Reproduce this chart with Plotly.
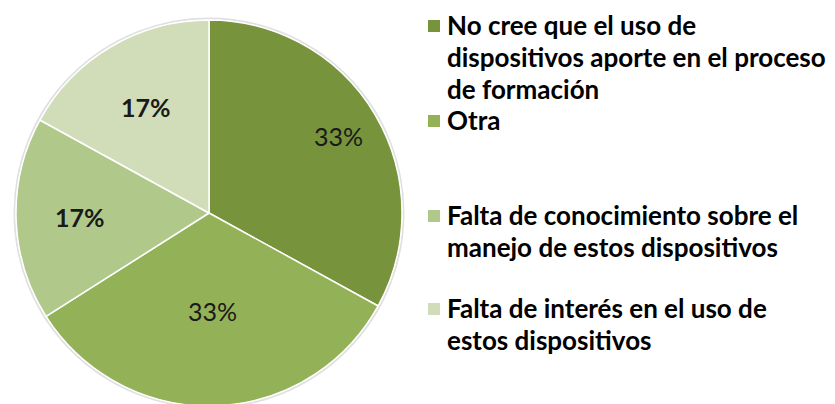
import math
import plotly.graph_objects as go

W, H = 835, 404
OFF = 8  # browser body margin offset

categories = [
    "No cree que el uso de dispositivos aporte en el proceso de formación",
    "Otra",
    "Falta de conocimiento sobre el manejo de estos dispositivos",
    "Falta de interés en el uso de estos dispositivos",
]
legend_lines = [
    ["No cree que el uso de", "dispositivos aporte en el proceso", "de formación"],
    ["Otra"],
    ["Falta de conocimiento sobre el", "manejo de estos dispositivos"],
    ["Falta de interés en el uso de", "estos dispositivos"],
]
values = [33, 33, 17, 17]
colors = ["#77933C", "#93B157", "#B0C98A", "#D0DDB8"]
label_radius = [0.78, 0.51, 0.67, 0.64]  # fraction of radius where % labels sit

FONT = "Lato"

def px_x(x):
    return (x - OFF) / W

def px_y(y):
    return 1 - (y - OFF) / H

# pie geometry (reference pixels)
CX, CY, R = 209, 213, 193

fig = go.Figure(go.Pie(
    labels=categories,
    values=values,
    textinfo="none",
    sort=False,
    direction="clockwise",
    rotation=0,
    marker=dict(colors=colors, line=dict(color="white", width=1.5)),
    showlegend=False,
    hoverinfo="label+percent",
    domain=dict(x=[px_x(CX - R), px_x(CX + R)], y=[px_y(CY + R), px_y(CY - R)]),
))

# faint shadow ring around the pie
fig.add_shape(type="circle", xref="paper", yref="paper", layer="below",
              x0=px_x(CX - R - 1.5), x1=px_x(CX + R + 1.5),
              y0=px_y(CY + R + 1.5), y1=px_y(CY - R - 1.5),
              line=dict(color="rgba(0,0,0,0.12)", width=2), fillcolor="rgba(0,0,0,0)")

# percentage labels placed at slice mid-angles
total = sum(values)
cum = 0
for i, v in enumerate(values):
    mid = (cum + v / 2) / total * 2 * math.pi
    cum += v
    r = R * label_radius[i]
    lx = CX + r * math.sin(mid)
    ly = CY - r * math.cos(mid)
    txt = f"{round(v / total * 100)}%"
    if v < 20:
        txt = f"<b>{txt}</b>"
    fig.add_annotation(text=txt, xref="paper", yref="paper",
                       x=px_x(lx), y=px_y(ly), xanchor="center", yanchor="middle",
                       showarrow=False,
                       font=dict(family=FONT, size=25, color="#1a1a1a"))

# legend drawn as shapes + text lines
line_pitch = 32
item_tops = [25, 120, 215, 308]
for i, lines in enumerate(legend_lines):
    y0 = item_tops[i]
    fig.add_shape(type="rect", xref="paper", yref="paper",
                  x0=px_x(428), x1=px_x(440),
                  y0=px_y(y0 - 5), y1=px_y(y0 + 7),
                  fillcolor=colors[i], line=dict(width=0))
    for j, ln in enumerate(lines):
        fig.add_annotation(text=f"<b>{ln}</b>", xref="paper", yref="paper",
                           x=px_x(445), y=px_y(y0 + j * line_pitch),
                           xanchor="left", yanchor="middle", showarrow=False,
                           font=dict(family=FONT, size=26, color="#000000"))

fig.update_layout(
    width=W, height=H,
    margin=dict(l=0, r=0, t=0, b=0),
    paper_bgcolor="white", plot_bgcolor="white",
)

fig.write_html("out.html")
